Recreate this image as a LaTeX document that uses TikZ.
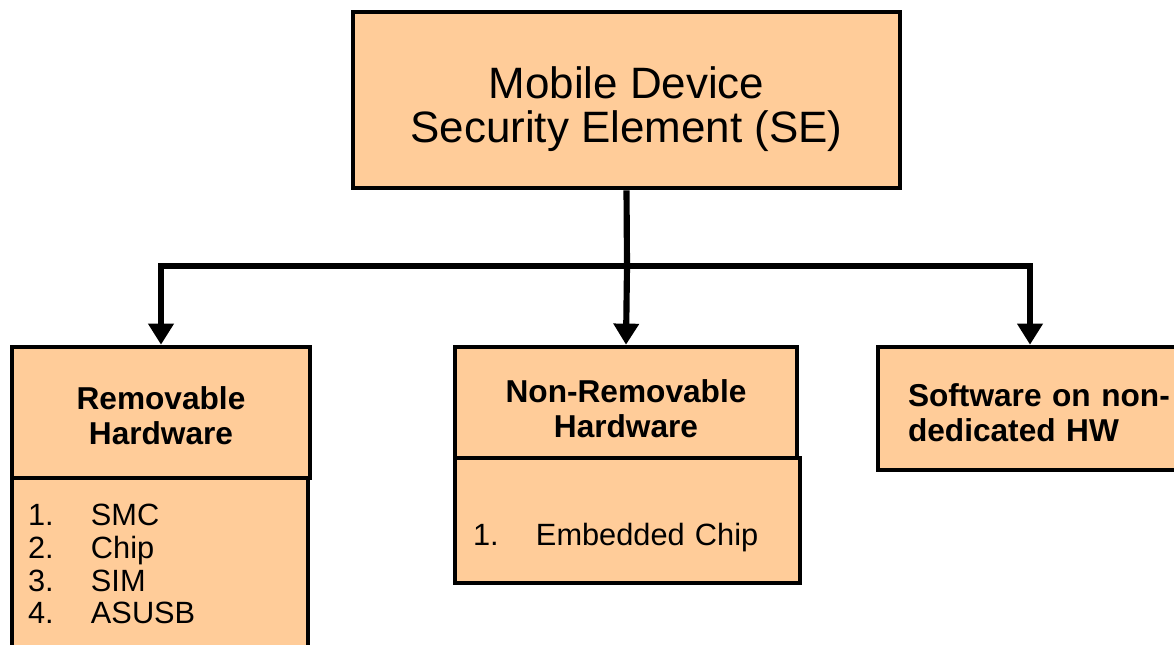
\documentclass[tikz,border=0pt]{standalone}
\usepackage{fontspec}
\setmainfont{Liberation Sans}
\usetikzlibrary{arrows.meta,positioning}
\definecolor{peach}{RGB}{255,204,153}
\tikzstyle{box} = [rectangle, draw, fill=peach, line width=2.6pt, inner sep=0pt]
\tikzstyle{head} = [box, font=\fontsize{18}{20}\selectfont\bfseries]
\tikzstyle{list} = [box, font=\fontsize{17.5}{18.7}\selectfont, align=left]
\tikzstyle{link} = [line width=3.5pt]
\tikzstyle{arr} = [link, -{Triangle[width=14pt,length=12pt]}]
% numbered entry inside a list box
\newcommand{\seitem}[2]{\makebox[1.26cm][l]{#1}#2}
% extra room above the first line of a box
\newcommand{\padtop}[1]{\rule{0pt}{#1}}

\begin{document}
\begin{tikzpicture}
    \useasboundingbox (0,0) rectangle (23.48,-12.88);
    % root
    \node[box, minimum width=10.94cm, minimum height=3.52cm, align=center,
        font=\fontsize{25}{25.5}\selectfont] (se) at (12.53,-2.0)
        {\padtop{28.5pt}Mobile Device\\Security Element (SE)};
    % the three kinds of SE
    \node[head, minimum width=5.96cm, minimum height=2.62cm, align=center] (rem) at (3.22,-8.25)
        {\padtop{17pt}Removable\\Hardware};
    \node[list, minimum width=5.92cm, minimum height=3.44cm, text width=5.28cm] (remlist) at (3.20,-11.28)
        {\seitem{1.}{SMC}\\\seitem{2.}{Chip}\\\seitem{3.}{SIM}\\\seitem{4.}{ASUSB}};
    \node[head, minimum width=6.84cm, minimum height=2.22cm, align=center] (nonrem) at (12.52,-8.05)
        {\padtop{20.5pt}Non-Removable\\Hardware};
    \node[list, minimum width=6.90cm, minimum height=2.50cm, text width=6.18cm] (nonremlist) at (12.55,-10.41)
        {\strut\\\seitem{1.}{Embedded Chip}};
    \node[head, minimum width=6.08cm, minimum height=2.46cm, align=left, text width=5.8cm] (sw) at (20.6,-8.17)
        {\hspace*{0.46cm}\padtop{18pt}Software on non-\\\hspace*{0.46cm}dedicated HW};
    % tree connectors
    \coordinate (split) at (12.54,-5.32);
    \draw[link] (se.south) -- (split);
    \draw[arr] (split) -| (rem.north);
    \draw[arr] (split) -- (nonrem.north);
    \draw[arr] (split) -| (sw.north);
\end{tikzpicture}
\end{document}
